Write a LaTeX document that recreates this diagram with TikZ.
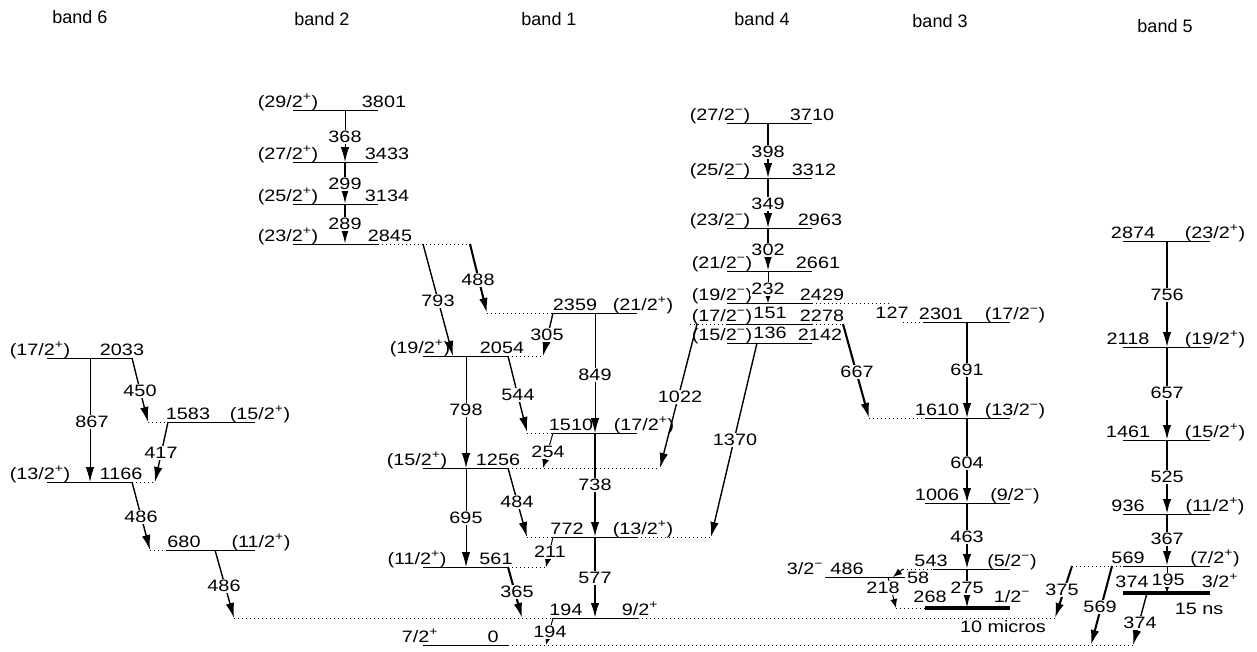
\documentclass[tikz,border=0pt]{standalone}
\usepackage{fontspec}
\setmainfont{Liberation Sans}[FakeStretch=1.2]
\newfontfamily\bandfont{Liberation Sans}
\usetikzlibrary{arrows.meta}

% spin-parity labels
\newcommand\jp[2]{(#1/2\textsuperscript{#2})}
\newcommand\jn[2]{#1/2\textsuperscript{#2}}

\newcounter{lbl}
% level text: x, level y, text (set on the level line)
\newcommand\lt[3]{\stepcounter{lbl}\node[tx] (lab\arabic{lbl}) at (#1,#2-3) {#3};}
% gamma transition: [style], name, start, end, label position, energy
\newcommand\gl[6][tr]{%
  \coordinate (#2s) at (#3); \coordinate (#2e) at (#4);
  \draw[#1] (#2s) -- (#2e);
  \node[el] (#2l) at (#5) {#6};}

\tikzset{
  lv/.style={line width=0.8pt},
  lvb/.style={line width=3.6pt},
  dt/.style={line width=0.8pt, dash pattern=on 0.8pt off 3.2pt},
  tr/.style={line width=1pt, -{Latex[length=15pt,width=8.5pt]}},
  trm/.style={tr, line width=1.4pt},
  trb/.style={tr, line width=2.1pt},
  trs/.style={line width=1pt, -{Latex[length=9pt,width=7pt]}},
  tx/.style={font=\fontsize{16.5}{18}\selectfont, inner sep=0pt, anchor=base},
  el/.style={font=\fontsize{16.5}{18}\selectfont, inner sep=1pt, fill=white},
  bd/.style={font=\bandfont\fontsize{18}{20}\selectfont, inner sep=0pt, anchor=base},
}

\begin{document}
\begin{tikzpicture}[x=1pt, y=-1pt]
\useasboundingbox (0,0) rectangle (1257,651);

% ---------- band headings
\node[bd] (h6) at (80,23) {band 6};
\node[bd] (h2) at (322,25) {band 2};
\node[bd] (h1) at (549,25) {band 1};
\node[bd] (h4) at (762,25) {band 4};
\node[bd] (h3) at (940,27) {band 3};
\node[bd] (h5) at (1165,32) {band 5};

% ---------- dotted level extensions
\draw[dt] (148,422) -- (168,422);
\draw[dt] (132,482) -- (155,482);
\draw[dt] (150,550) -- (167,550);
\draw[dt] (378,244) -- (470,244);
\draw[dt] (487,313) -- (553,313);
\draw[dt] (508,356) -- (542,356);
\draw[dt] (527,433) -- (553,433);
\draw[dt] (508,468) -- (660,468);
\draw[dt] (527,537) -- (553,537);
\draw[dt] (637,537) -- (710,537);
\draw[dt] (508,567) -- (547,567);
\draw[dt] (234,618) -- (553,618);
\draw[dt] (638,618) -- (1057,618);
\draw[dt] (508,645) -- (1133,645);
\draw[dt] (812,303) -- (892,303);
\draw[dt] (690,324) -- (727,324);
\draw[dt] (812,324) -- (843,324);
\draw[dt] (903,322) -- (923,322);
\draw[dt] (869,418) -- (925,418);
\draw[dt] (903,569) -- (933,569);
\draw[dt] (896,608) -- (925,608);
\draw[dt] (1072,566) -- (1123,566);

% ---------- levels
% band 6
\draw[lv] (47,358) -- (132,358);
\draw[lv] (168,422) -- (255,422);
\draw[lv] (47,482) -- (132,482);
\draw[lv] (167,550) -- (255,550);
% band 2
\draw[lv] (293,110) -- (378,110);
\draw[lv] (293,162) -- (378,162);
\draw[lv] (293,204) -- (378,204);
\draw[lv] (293,244) -- (378,244);
\draw[lv] (423,356) -- (508,356);
\draw[lv] (423,468) -- (508,468);
\draw[lv] (423,567) -- (508,567);
\draw[lv] (423,645) -- (508,645);
% band 1
\draw[lv] (553,313) -- (637,313);
\draw[lv] (553,433) -- (637,433);
\draw[lv] (553,537) -- (637,537);
\draw[lv] (553,618) -- (638,618);
% band 4
\foreach \y in {123,178,228,271,303,324,343} \draw[lv] (727,\y) -- (812,\y);
% band 3
\draw[lv] (923,322) -- (1010,322);
\draw[lv] (925,418) -- (1010,418);
\draw[lv] (925,503) -- (1010,503);
\draw[lv] (933,569) -- (1010,569);
\draw[lvb] (925,608) -- (1010,608);
\draw[lv] (825,577) -- (905,577);
% band 5
\foreach \y in {241,347,440,514,566} \draw[lv] (1123,\y) -- (1210,\y);
\draw[lvb] (1123,593) -- (1210,593);

% ---------- level texts
\lt{40}{358}{\jp{17}{+}} \lt{122}{358}{2033}
\lt{188}{422}{1583} \lt{260}{422}{\jp{15}{+}}
\lt{40}{482}{\jp{13}{+}} \lt{121}{482}{1166}
\lt{184}{550}{680} \lt{261}{550}{\jp{11}{+}}

\lt{288}{110}{\jp{29}{+}} \lt{384}{110}{3801}
\lt{288}{162}{\jp{27}{+}} \lt{387}{162}{3433}
\lt{288}{204}{\jp{25}{+}} \lt{387}{204}{3134}
\lt{288}{244}{\jp{23}{+}} \lt{390}{244}{2845}
\lt{420}{356}{\jp{19}{+}} \lt{502}{356}{2054}
\lt{417}{468}{\jp{15}{+}} \lt{498}{468}{1256}
\lt{417}{567}{\jp{11}{+}} \lt{496}{567}{561}
\lt{420}{645}{\jn{7}{+}} \lt{493}{645}{0}

\lt{575}{313}{2359} \lt{643}{313}{\jp{21}{+}}
\lt{571}{433}{1510} \lt{644}{433}{\jp{17}{+}}
\lt{567}{537}{772} \lt{643}{537}{\jp{13}{+}}
\lt{566}{618}{194} \lt{640}{618}{\jn{9}{+}}

\lt{720}{123}{\jp{27}{−}} \lt{812}{123}{3710}
\lt{720}{178}{\jp{25}{−}} \lt{814}{178}{3312}
\lt{720}{228}{\jp{23}{−}} \lt{820}{228}{2963}
\lt{722}{271}{\jp{21}{−}} \lt{818}{271}{2661}
\lt{722}{303}{\jp{19}{−}} \lt{822}{303}{2429}
\lt{722}{324}{\jp{17}{−}} \lt{822}{324}{2278}
\lt{722}{343}{\jp{15}{−}} \lt{820}{343}{2142}

\lt{941}{322}{2301} \lt{1015}{322}{\jp{17}{−}}
\lt{937}{418}{1610} \lt{1015}{418}{\jp{13}{−}}
\lt{937}{503}{1006} \lt{1015}{503}{\jp{9}{−}}
\lt{931}{569}{543} \lt{1012}{569}{\jp{5}{−}}
\lt{930}{605}{268} \lt{1012}{605}{\jn{1}{−}}
\lt{805}{577}{\jn{3}{−}} \lt{847}{577}{486}
\node[font=\fontsize{16.5}{18}\selectfont, inner sep=0pt] (t10mu) at (1003,627) {10 micros};

\lt{1133}{241}{2874} \lt{1215}{241}{\jp{23}{+}}
\lt{1128}{347}{2118} \lt{1215}{347}{\jp{19}{+}}
\lt{1128}{440}{1461} \lt{1215}{440}{\jp{15}{+}}
\lt{1128}{514}{936} \lt{1215}{514}{\jp{11}{+}}
\lt{1128}{566}{569} \lt{1215}{566}{\jp{7}{+}}
\lt{1132}{590}{374} \lt{1220}{590}{\jn{3}{+}}
\node[font=\fontsize{16.5}{18}\selectfont, inner sep=0pt] (t15ns) at (1199,609) {15 ns};

% ---------- transitions
% band 6
\gl{g867}{90,358}{90,482}{92,422}{867}
\gl[trm]{g450}{132,358}{148,422}{140,391}{450}
\gl[trm]{g417}{168,422}{155,482}{161,453}{417}
\gl[trm]{g486a}{132,482}{150,550}{141,517}{486}
\gl[trm]{g486b}{215,550}{234,618}{224,586}{486}
% band 2
\gl{g368}{345,110}{345,162}{345,137}{368}
\gl[trb]{g299}{345,162}{345,204}{345,184}{299}
\gl[trb]{g289}{345,204}{345,244}{345,224}{289}
\gl[trm]{g793}{423,244}{453,356}{438,301}{793}
\gl[trb]{g488}{470,244}{487,313}{478,280}{488}
\gl{g798}{466,356}{466,468}{466,410}{798}
\gl[trm]{g544}{508,356}{527,432}{518,395}{544}
\gl[trm]{g484}{508,468}{527,537}{517,502}{484}
\gl{g695}{466,468}{466,567}{466,518}{695}
\gl[trb]{g365}{508,567}{522,618}{517,592}{365}
% band 1
\gl[trm]{g305}{553,313}{543,356}{547,335}{305}
\gl{g849}{595,313}{595,433}{595,375}{849}
\gl[trs]{g254}{553,433}{543,468}{548,452}{254}
\gl[trb]{g738}{595,433}{595,537}{595,485}{738}
\gl[trs]{g211}{553,537}{546,567}{550,552}{211}
\gl[trb]{g577}{595,537}{595,618}{595,578}{577}
\gl[trs]{g194}{553,618}{546,645}{550,632}{194}
% band 4
\gl[trm]{g398}{768,123}{768,178}{768,152}{398}
\gl[trm]{g349}{768,178}{768,228}{768,204}{349}
\gl[trb]{g302}{768,228}{768,271}{768,250}{302}
\gl[trs]{g232}{768,271}{768,303}{768,289}{232}
\node[el] (e151) at (770,313) {151};
\node[el] (e136) at (770,333) {136};
\gl[trm]{g1022}{697,324}{660,468}{680,397}{1022}
\gl[trm]{g1370}{757,343}{711,537}{735,440}{1370}
\gl[trb]{g667}{843,324}{869,418}{857,372}{667}
% band 3
\node[el] (e127) at (892,313) {127};
\gl[trm]{g691}{967,322}{967,418}{967,370}{691}
\gl[trb]{g604}{967,418}{967,503}{967,463}{604}
\gl[trb]{g463}{967,503}{967,569}{967,537}{463}
\gl[trb]{g275}{967,569}{967,608}{967,588}{275}
\gl[trs]{g58}{903,569}{893,577}{918,578}{58}
\gl[trs]{g218}{888,577}{896,608}{883,588}{218}
% band 5
\gl[trm]{g756}{1167,241}{1167,347}{1167,295}{756}
\gl[trb]{g657}{1167,347}{1167,440}{1167,393}{657}
\gl[trb]{g525}{1167,440}{1167,514}{1167,477}{525}
\gl[trb]{g367}{1167,514}{1167,566}{1167,539}{367}
\gl[trs]{g195}{1167,566}{1167,593}{1168,580}{195}
\gl[trb]{g375}{1072,566}{1055,618}{1062,590}{375}
\gl[trb]{g569}{1112,566}{1091,645}{1100,607}{569}
\gl[trm]{g374}{1147,593}{1133,645}{1140,623}{374}
\end{tikzpicture}
\end{document}
